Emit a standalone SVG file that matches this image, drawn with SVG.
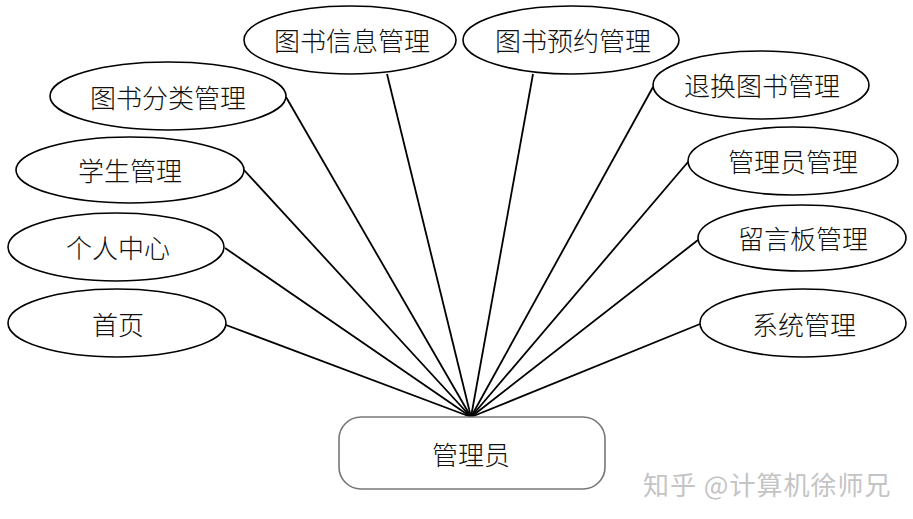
<svg xmlns="http://www.w3.org/2000/svg" width="913" height="519" viewBox="0 0 913 519">
<style>
.e{fill:#fff;stroke:#000;stroke-width:1.6}
.t{font-family:"Noto Sans CJK SC","Noto Sans CJK JP",sans-serif;font-size:26px;font-weight:300;fill:#111;text-anchor:middle;dominant-baseline:central}
.c line{stroke:#000;stroke-width:1.8}
</style>
<rect width="913" height="519" fill="#fff"/>
<g class="c" id="connectors">
<line x1="226" y1="325" x2="471" y2="417"/>
<line x1="225" y1="248" x2="471" y2="417"/>
<line x1="244" y1="170" x2="471" y2="417"/>
<line x1="286" y1="97" x2="471" y2="417"/>
<line x1="387" y1="74" x2="471" y2="417"/>
<line x1="533" y1="74" x2="471" y2="417"/>
<line x1="653" y1="87" x2="471" y2="417"/>
<line x1="688" y1="162" x2="471" y2="417"/>
<line x1="698" y1="240" x2="471" y2="417"/>
<line x1="700" y1="324" x2="471" y2="417"/>
</g>
<g id="n-info"><ellipse class="e" cx="350" cy="40" rx="106" ry="34"/><text class="t" x="352" y="39">图书信息管理</text></g>
<g id="n-reserve"><ellipse class="e" cx="571" cy="40" rx="108" ry="34"/><text class="t" x="573" y="39">图书预约管理</text></g>
<g id="n-category"><ellipse class="e" cx="168" cy="96" rx="118" ry="34"/><text class="t" x="168" y="96">图书分类管理</text></g>
<g id="n-student"><ellipse class="e" cx="130" cy="170" rx="114" ry="33"/><text class="t" x="130" y="169">学生管理</text></g>
<g id="n-personal"><ellipse class="e" cx="116" cy="247" rx="108" ry="34"/><text class="t" x="118" y="246">个人中心</text></g>
<g id="n-home"><ellipse class="e" cx="117" cy="323" rx="109" ry="34"/><text class="t" x="118" y="323">首页</text></g>
<g id="n-return"><ellipse class="e" cx="761" cy="85" rx="108" ry="34"/><text class="t" x="762" y="84">退换图书管理</text></g>
<g id="n-admin"><ellipse class="e" cx="793" cy="161" rx="105" ry="34"/><text class="t" x="793" y="160">管理员管理</text></g>
<g id="n-board"><ellipse class="e" cx="802" cy="238" rx="104" ry="33"/><text class="t" x="803" y="237">留言板管理</text></g>
<g id="n-system"><ellipse class="e" cx="803" cy="323" rx="103" ry="34"/><text class="t" x="804" y="323">系统管理</text></g>
<g id="n-root"><rect x="339" y="417" width="266" height="72" rx="22" fill="#fff" stroke="#777" stroke-width="1.6"/><text class="t" x="471" y="453">管理员</text></g>
<text x="643" y="483" font-family="'Noto Sans CJK SC',sans-serif" font-size="26" letter-spacing="1" fill="#c4c4c4" dominant-baseline="central">知乎 @计算机徐师兄</text>
</svg>
